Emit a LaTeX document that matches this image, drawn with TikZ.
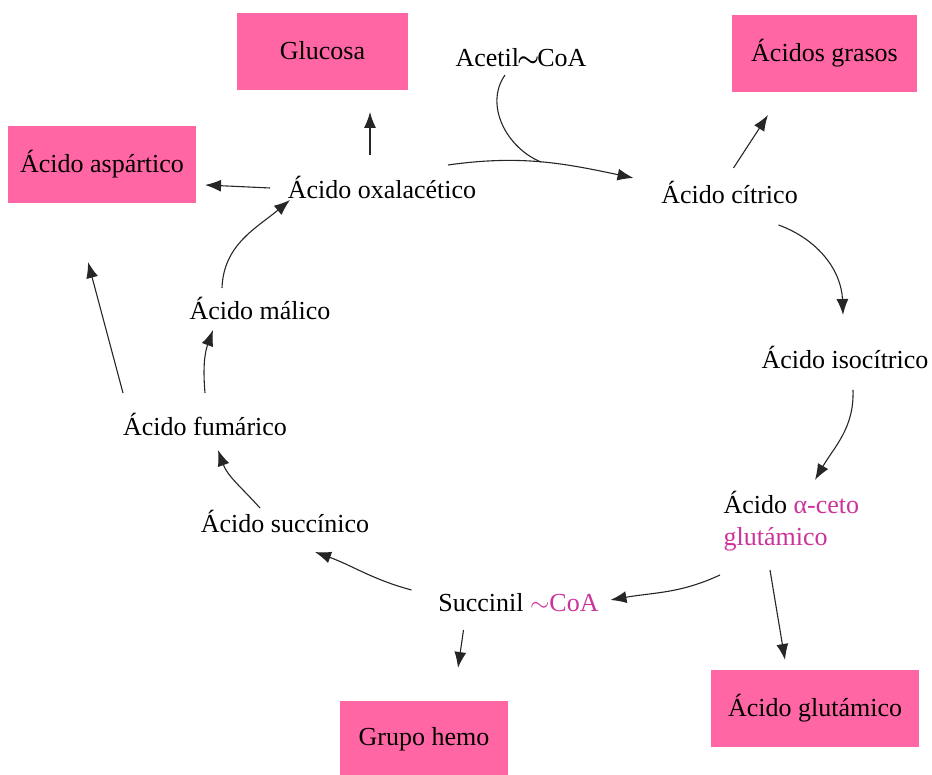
\documentclass[tikz,border=0pt]{standalone}
\usepackage{fontspec,amsmath}
\setmainfont{Liberation Serif}
\usetikzlibrary{arrows.meta}
\definecolor{caja}{HTML}{FF66A3}
\definecolor{rosa}{HTML}{CC3399}

\begin{document}
\begin{tikzpicture}[x=1pt,y=1pt,>={Latex[length=16pt,width=12pt]},line width=1.1pt,every node/.style={font=\fontsize{26}{32}\selectfont,inner sep=0pt,text height=22pt,text depth=6pt},prod/.style={fill=caja,minimum height=77pt},paso/.style={->,draw=black!85}]
\useasboundingbox (0,0) rectangle (932,775);
\node[prod,minimum width=171pt] (glu) at (322.5,723.5) {Glucosa};
\node[prod,minimum width=185pt] (grasos) at (824.5,721) {Ácidos grasos};
\node[prod,minimum width=188pt] (asp) at (102,610) {Ácido aspártico};
\node[prod,minimum width=208pt] (glut) at (815,66) {Ácido glutámico};
\node[prod,minimum width=168pt,minimum height=74pt] (hemo) at (424,37) {Grupo hemo};
\node (acetil) at (521,716) {Acetil\kern-2pt$\boldsymbol{\sim}$\kern-2ptCoA};
\node (oxal) at (382,584) {Ácido oxalacético};
\node (citr) at (729.5,579) {Ácido cítrico};
\node (iso) at (845,414) {Ácido isocítrico};
\node[anchor=base west,align=left,text height=,text depth=] (akg) at (723,229) {Ácido \textcolor{rosa}{α-ceto}\\\textcolor{rosa}{glutámico}};
\node (scoa) at (518.5,171) {Succinil \textcolor{rosa}{$\sim$CoA}};
\node (succ) at (285,250) {Ácido succínico};
\node (fum) at (205,347) {Ácido fumárico};
\node (mal) at (260,463) {Ácido málico};
\coordinate (fumsal) at (88,513);
\draw[paso] ([shift={(66,26)}]oxal.center) to[out=8,in=168] node[coordinate,pos=0.5] (union) {} ([shift={(-96,18)}]citr.center);
\draw[draw=black!85] ([shift={(-16,-16)}]acetil.center) to[out=-125,in=158] (union);
\draw[paso] ([shift={(-12,36)}]oxal.center)--([shift={(47.5,-60.5)}]glu.center);
\draw[paso] ([shift={(-112,3)}]oxal.center)--([shift={(103,-20)}]asp.center);
\draw[paso] ([shift={(4,28)}]citr.center)--([shift={(-56.5,-61)}]grasos.center);
\draw[paso] ([shift={(49,-29)}]citr.center) to[out=-20,in=92] ([shift={(-2,46)}]iso.center);
\draw[paso] ([shift={(8,-29)}]iso.center) to[out=-88,in=60] ([shift={(92,66)}]akg.base west);
\draw[paso] ([shift={(-3,-29)}]akg.base west) to[out=-155,in=10] ([shift={(92,4)}]scoa.center);
\draw[paso] ([shift={(47,-24)}]akg.base west)--([shift={(-30,49)}]glut.center);
\draw[paso] ([shift={(-55,-26)}]scoa.center)--([shift={(34,70)}]hemo.center);
\draw[paso] ([shift={(-107,14)}]scoa.center) to[out=165,in=-20] ([shift={(30,-27)}]succ.center);
\draw[paso] ([shift={(-25,17)}]succ.center) to[out=132,in=-70] ([shift={(13,-22)}]fum.center);
\draw[paso] ([shift={(0,35)}]fum.center) to[out=95,in=-110] ([shift={(-47,-18)}]mal.center);
\draw[paso] ([shift={(-38,24)}]mal.center) to[out=88,in=-140] ([shift={(-92,-9)}]oxal.center);
\draw[paso] ([shift={(-82,35)}]fum.center)--(fumsal);
\end{tikzpicture}
\end{document}
